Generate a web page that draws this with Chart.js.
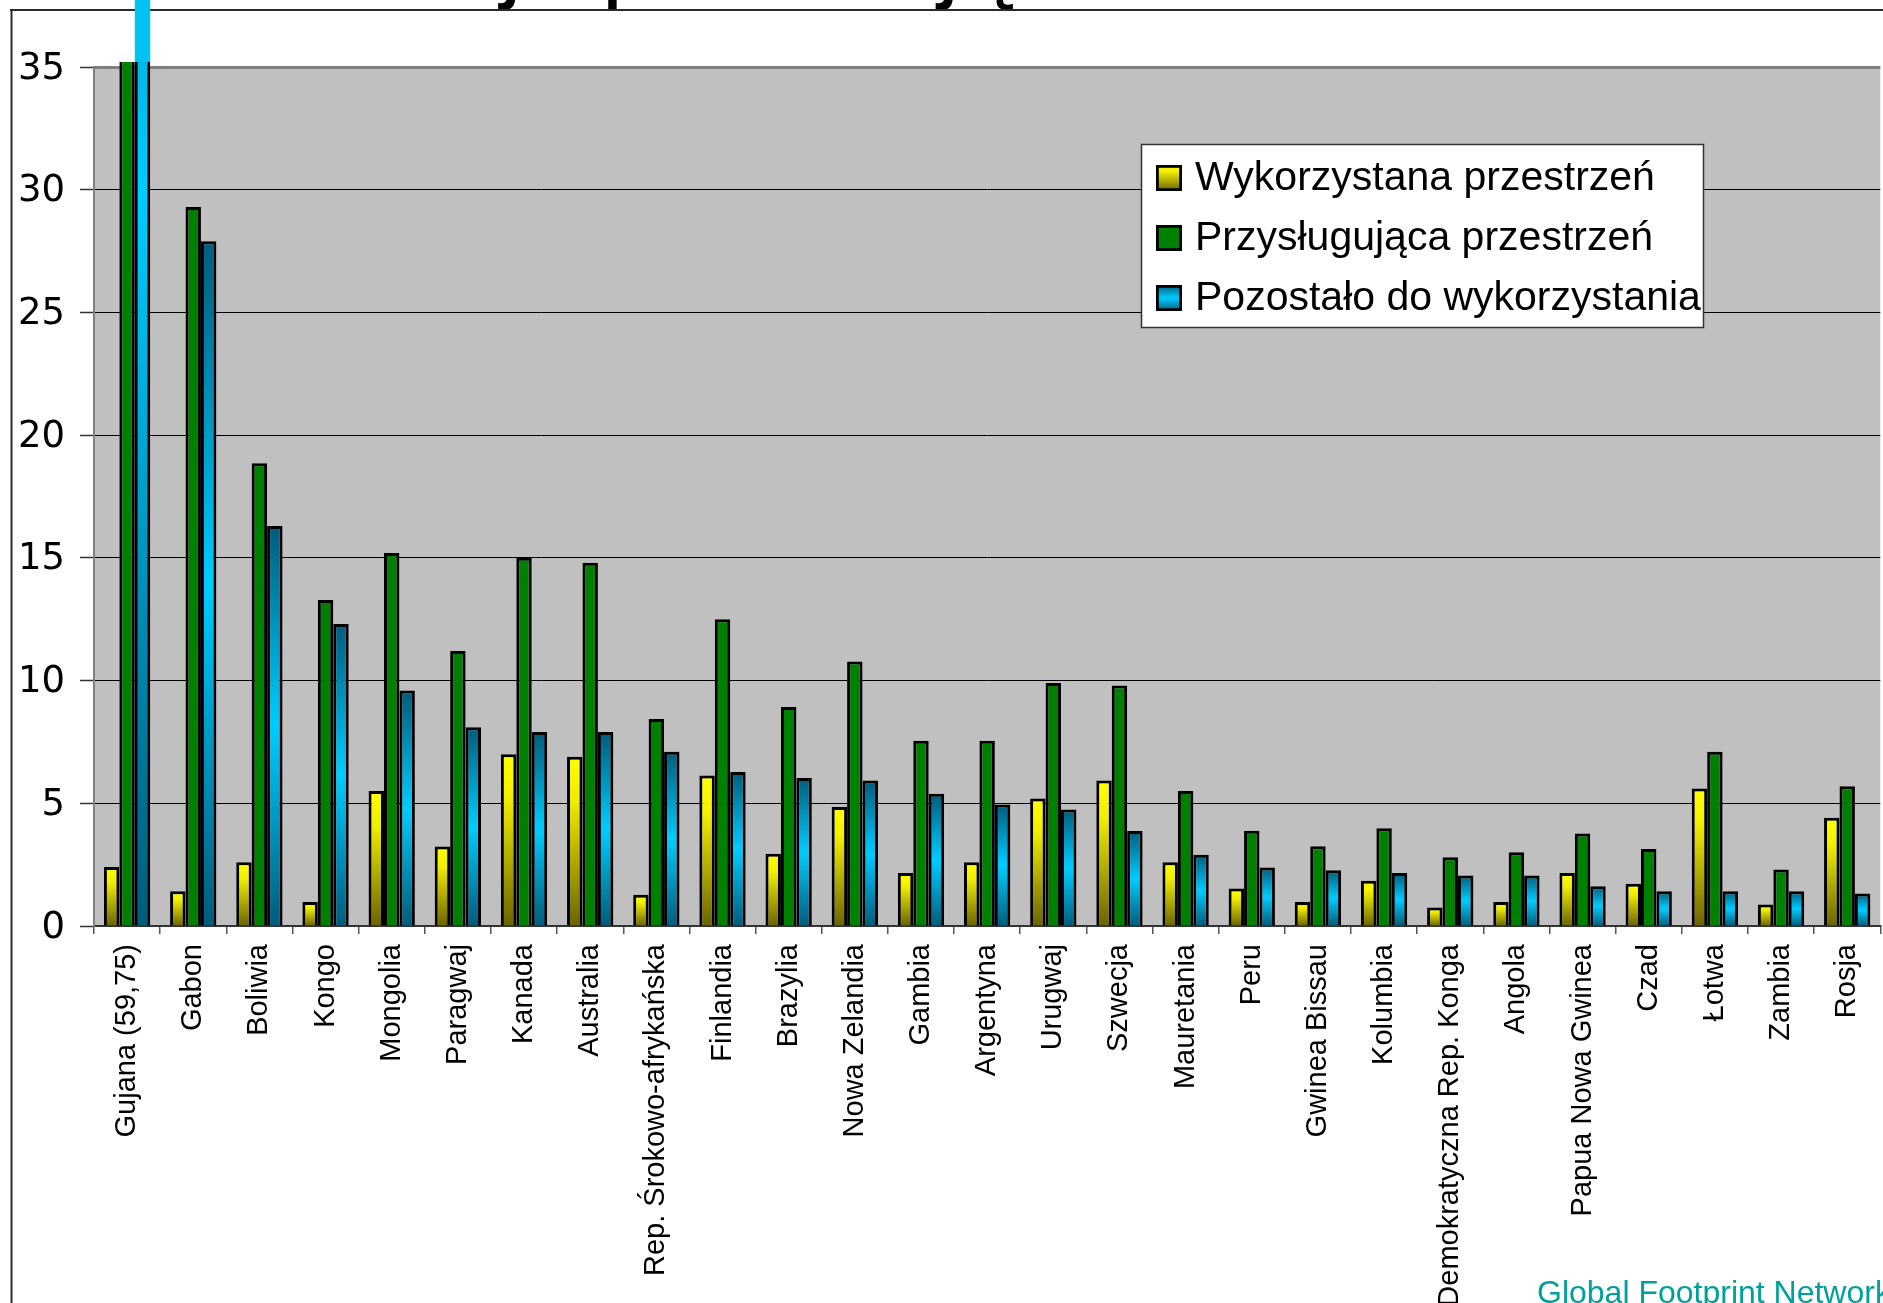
<!DOCTYPE html>
<html lang="pl">
<head>
<meta charset="utf-8">
<title>Kraje posiadające</title>
<script src="https://cdn.jsdelivr.net/npm/chart.js@4.4.1/dist/chart.umd.min.js"></script>
<style>
  html, body { margin: 0; padding: 0; background: #fff; overflow: hidden; width: 1883px; height: 1303px; }
  #wrap { position: absolute; left: 0; top: 0; width: 1892px; height: 1303px; }
  canvas { display: block; }
</style>
</head>
<body>
<div id="wrap"><canvas id="c" width="1892" height="1303"></canvas></div>
<script>
// Categories (countries) and the three series, in global hectares per person
const categories = [
  'Gujana (59,75)', 'Gabon', 'Boliwia', 'Kongo', 'Mongolia', 'Paragwaj', 'Kanada', 'Australia',
  'Rep. Śrokowo-afrykańska', 'Finlandia', 'Brazylia', 'Nowa Zelandia', 'Gambia', 'Argentyna',
  'Urugwaj', 'Szwecja', 'Mauretania', 'Peru', 'Gwinea Bissau', 'Kolumbia',
  'Demokratyczna Rep. Konga', 'Angola', 'Papua Nowa Gwinea', 'Czad', 'Łotwa', 'Zambia', 'Rosja'
];
const usedSpace = [2.4, 1.42, 2.6, 0.98, 5.5, 3.24, 7.0, 6.9, 1.27, 6.13, 2.94, 4.85, 2.16, 2.6,
  5.2, 5.93, 2.6, 1.53, 0.98, 1.84, 0.75, 0.98, 2.16, 1.72, 5.6, 0.88, 4.41];
const availableSpace = [62.15, 29.3, 18.85, 13.28, 15.2, 11.2, 15.0, 14.8, 8.43, 12.5, 8.92, 10.78, 7.55, 7.55,
  9.9, 9.8, 5.5, 3.88, 3.25, 3.98, 2.8, 3.0, 3.77, 3.14, 7.1, 2.3, 5.69];
const remainingSpace = [59.75, 27.9, 16.3, 12.3, 9.6, 8.1, 7.9, 7.9, 7.1, 6.27, 6.03, 5.93, 5.39, 4.95,
  4.75, 3.87, 2.9, 2.38, 2.27, 2.16, 2.06, 2.06, 1.62, 1.42, 1.42, 1.42, 1.32];
const seriesNames = ['Wykorzystana przestrzeń', 'Przysługująca przestrzeń', 'Pozostało do wykorzystania'];
const yTicks = [0, 5, 10, 15, 20, 25, 30, 35];
const titleText = 'Kraje posiadające';
const sourceText = 'Global Footprint Network';

// Fill styles
const yellowStops = [[0, '#FFFF00'], [0.25, '#F2EE00'], [1, '#6B6300']];
const blueStops = [[0, '#005C7C'], [0.5, '#00CCFF'], [1, '#005C7C']];
const greenFill = '#008000';
const FONT = '"Liberation Sans", Arial, sans-serif';
const WIDE_FONT = '"DejaVu Sans", sans-serif';

function gradientBetween(c2d, top, bottom, stops) {
  const g = c2d.createLinearGradient(0, top, 0, bottom);
  stops.forEach(([o, c]) => g.addColorStop(o, c));
  return g;
}

// Each bar gets its own vertical gradient, spanning from its value down to zero
function barFill(stops) {
  return (ctx) => {
    const chart = ctx.chart;
    const y = chart.scales.y;
    if (ctx.type !== 'data' || !y || !chart.chartArea) return stops[1][1];
    const top = y.getPixelForValue(ctx.raw);
    const base = y.getPixelForValue(0);
    return gradientBetween(chart.ctx, top, base, stops);
  };
}

const legendFills = [
  (c2d, t, b) => gradientBetween(c2d, t, b, yellowStops),
  () => greenFill,
  (c2d, t, b) => gradientBetween(c2d, t, b, blueStops)
];

const slidePlugin = {
  id: 'slide',
  beforeDraw(chart) {
    const { ctx, chartArea: a } = chart;
    ctx.save();
    ctx.fillStyle = '#ffffff';
    ctx.fillRect(0, 0, chart.width, chart.height);
    ctx.fillStyle = '#C0C0C0';
    ctx.fillRect(a.left, a.top, a.right - a.left, a.bottom - a.top);
    ctx.restore();
  },
  afterDraw(chart) {
    const { ctx, chartArea: a } = chart;
    ctx.save();

    // slide title (runs above the top edge)
    ctx.fillStyle = '#000';
    ctx.font = '96px ' + FONT;
    ctx.textBaseline = 'alphabetic';
    ctx.textAlign = 'left';
    ctx.fillText(titleText, 351, -10);

    // slide frame
    ctx.strokeStyle = '#2b2b2b';
    ctx.lineWidth = 2;
    ctx.beginPath();
    ctx.moveTo(10, 10);
    ctx.lineTo(chart.width, 10);
    ctx.moveTo(11.5, 10);
    ctx.lineTo(11.5, chart.height);
    ctx.stroke();

    // source
    ctx.fillStyle = '#00A09C';
    ctx.font = '32px ' + FONT;
    ctx.fillText(sourceText, 1537, 1303);

    // legend
    const lg = { x: 1141, y: 144, w: 562, h: 183, row: 60, box: 26 };
    ctx.fillStyle = '#fff';
    ctx.fillRect(lg.x, lg.y, lg.w, lg.h);
    ctx.strokeStyle = '#333';
    ctx.lineWidth = 1.5;
    ctx.strokeRect(lg.x + 0.5, lg.y + 0.5, lg.w, lg.h);
    chart.data.datasets.forEach((ds, i) => {
      const cy = lg.y + 34 + i * lg.row;
      const bx = lg.x + 15, by = cy - lg.box / 2;
      ctx.fillStyle = legendFills[i](ctx, by, by + lg.box);
      ctx.fillRect(bx, by, lg.box, lg.box);
      ctx.strokeStyle = '#000';
      ctx.lineWidth = 2.8;
      ctx.strokeRect(bx + 1.4, by + 1.4, lg.box - 2.8, lg.box - 2.8);
      ctx.fillStyle = '#000';
      ctx.font = '41px ' + FONT;
      ctx.textBaseline = 'middle';
      ctx.fillText(ds.label, lg.x + 54, cy + 1);
    });

    // bars of the remaining-space series that run past the axis maximum
    const y = chart.scales.y;
    const meta = chart.getDatasetMeta(2);
    meta.data.forEach((bar, i) => {
      if (chart.data.datasets[2].data[i] > y.max) {
        const p = bar.getProps(['x', 'width'], true);
        ctx.fillStyle = '#00C3F3';
        ctx.fillRect(p.x - p.width / 2, 0, p.width, a.top - 5);
      }
    });
    ctx.restore();
  }
};

const barClip = { left: 4, top: 5, right: 4, bottom: 0 };
const barStyle = {
  categoryPercentage: 0.7, barPercentage: 1,
  borderColor: '#000000', borderWidth: 3, borderSkipped: 'start', inflateAmount: 0,
  clip: barClip
};

new Chart(document.getElementById('c'), {
  type: 'bar',
  data: {
    labels: categories,
    datasets: [
      Object.assign({ label: seriesNames[0], data: usedSpace, backgroundColor: barFill(yellowStops) }, barStyle),
      Object.assign({ label: seriesNames[1], data: availableSpace, backgroundColor: greenFill }, barStyle),
      Object.assign({ label: seriesNames[2], data: remainingSpace, backgroundColor: barFill(blueStops) }, barStyle)
    ]
  },
  options: {
    responsive: false,
    animation: false,
    devicePixelRatio: 1,
    layout: { padding: { top: 67, left: 0, right: 0, bottom: 0 } },
    plugins: { legend: { display: false }, tooltip: { enabled: false }, title: { display: false } },
    scales: {
      x: {
        grid: { offset: true, drawOnChartArea: false, tickLength: 8, color: '#555', lineWidth: 1.5 },
        border: { color: '#333', width: 2 },
        ticks: {
          autoSkip: false, minRotation: 90, maxRotation: 90, padding: 10, color: '#000',
          font: { family: FONT, size: 29 }
        },
        afterFit: (s) => { s.height = 1303 - 926; }
      },
      y: {
        min: 0, max: 35,
        afterBuildTicks: (s) => { s.ticks = yTicks.map(v => ({ value: v })); },
        grid: {
          color: (c) => (c.tick && c.tick.value === 35 ? '#7f7f7f' : '#000'),
          lineWidth: (c) => (c.tick && c.tick.value === 35 ? 3 : 1),
          tickLength: 14, tickColor: '#333', tickWidth: 1.5
        },
        border: { color: '#7f7f7f', width: 2 },
        ticks: { padding: 15, labelOffset: 2, color: '#000', font: { family: WIDE_FONT, size: 37 } },
        afterFit: (s) => { s.width = 94; }
      }
    }
  },
  plugins: [slidePlugin]
});
</script>
</body>
</html>
